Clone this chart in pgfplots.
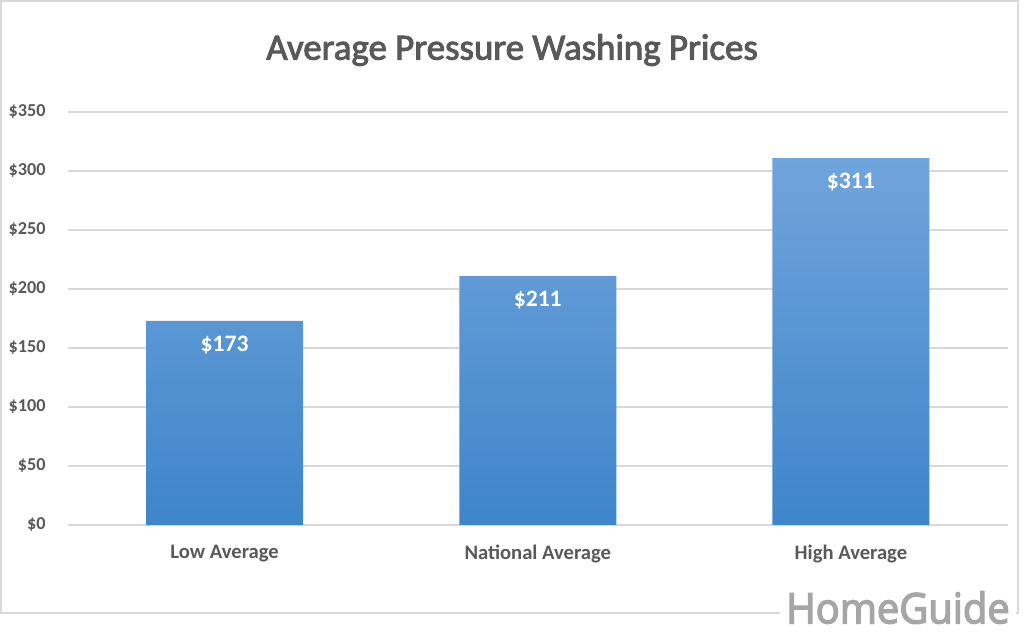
\documentclass[border=0pt]{standalone}
\usepackage{pgfplots}
\pgfplotsset{compat=1.18}
\usepackage{fontspec}
\setmainfont{Carlito}
\newfontfamily\titlefont[FakeBold=2.5]{Carlito}
\newfontfamily\wmfont[FakeBold=3.5]{Open Sans}
\definecolor{txt}{HTML}{595959}
\definecolor{gridc}{HTML}{D9D9D9}
\definecolor{bartop}{HTML}{70A4DC}
\definecolor{barbot}{HTML}{3F85CA}
\definecolor{wm}{HTML}{A6A6A6}
\begin{document}
\begin{tikzpicture}
\useasboundingbox (0,0) rectangle (512pt,318.5pt);
\fill[white] (0,0) rectangle (512pt,318.5pt);
\draw[gridc, line width=1pt] (0.5pt,12pt) rectangle (509pt,318pt);
\node[text=txt, font=\titlefont\fontsize{18.45}{22}\selectfont] at (256pt,293.5pt) {Average Pressure Washing Prices};
\begin{axis}[
  at={(34pt,56pt)}, anchor=south west,
  scale only axis, width=469.75pt, height=206.5pt,
  ybar, bar width=78.5pt,
  xmin=-0.5, xmax=2.5, ymin=0, ymax=350,
  ytick={0,50,...,350},
  xtick={0,1,2},
  xticklabels={Low Average,National Average,High Average},
  /pgf/number format/assume math mode=true,
  yticklabel={\$\pgfmathprintnumber{\tick}},
  axis line style={draw=none},
  major tick length=0pt,
  ymajorgrids, grid style={gridc, line width=0.75pt},
  yticklabel style={text=txt, font=\bfseries\fontsize{9.1}{11}\selectfont, anchor=east, inner sep=0pt, xshift=-11pt},
  xticklabel style={text=txt, font=\bfseries\fontsize{10.3}{12}\selectfont, anchor=north, inner sep=0pt, yshift=-10pt},
  nodes near coords={\$\pgfmathprintnumber{\pgfplotspointmeta}},
  nodes near coords align={below},
  every node near coord/.append style={text=white, font=\bfseries\fontsize{11.8}{14}\selectfont, anchor=north, inner sep=0pt, yshift=-7.5pt},
  clip=false,
]
\addplot[draw=none, top color=bartop, bottom color=barbot] coordinates {(0,173) (1,211) (2,311)};
\end{axis}
\node[fill=white, inner sep=3pt, text=wm, font=\wmfont\fontsize{21}{24}\selectfont, anchor=base] at (449pt,6.85pt) {\scalebox{0.95}[1]{HomeGuide}};
\end{tikzpicture}
\end{document}
